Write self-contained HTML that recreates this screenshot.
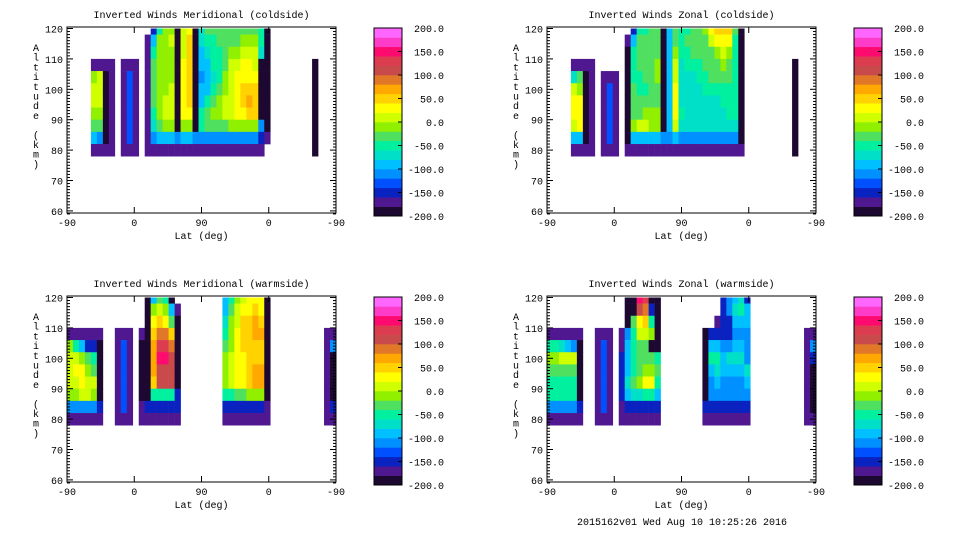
<!DOCTYPE html>
<html><head><meta charset="utf-8"><style>
html,body{margin:0;padding:0;background:#fff;}
svg{display:block;}
text{font-family:"Liberation Mono",monospace;font-size:10px;fill:#000;}
</style></head><body>
<svg id="chart" width="960" height="540" viewBox="0 0 960 540" xmlns="http://www.w3.org/2000/svg"></svg>
<script>
const N = null;
// altitude levels (km) for grid rows, orbit columns are 8-degree bins along orbit track
const altLevels = [120,116,112,108,104,100,96,92,88,84,80,76];
const xTickLabels = ["-90","0","90","0","-90"];
const yTickLabels = [120,110,100,90,80,70,60];
const cbarLabels = ["200.0","150.0","100.0","50.0","0.0","-50.0","-100.0","-150.0","-200.0"];
const bandColors = ["#1c0830","#501890","#0a22c0","#0050ff","#0090ff","#00c0ff","#00e0c8","#00f0a0","#50e060","#90f000","#d0ff00","#ffff00","#ffd200","#ffa800","#e07828","#c84a4a","#dc3c50","#ff0a6e","#ff3cc8","#ff66ff"];

// Top-left: Meridional coldside
const tlCols = [4,5,6,7,9,10,11,13,14,15,16,17,18,19,20,21,22,23,24,25,26,27,28,29,30,31,32,33,41];
const tlVals = [
[N,N,N,-180,-20,10,10,-20,-30,-100,-180,N],
[N,N,N,-180,0,10,0,-10,-40,-120,-170,N],
[N,N,N,-180,-200,-200,-200,-200,-200,-200,-180,N],
[N,N,N,-170,-170,-170,-170,-170,-170,-170,-170,N],
[N,N,N,-180,-180,-180,-180,-180,-180,-180,-180,N],
[N,N,N,-180,-140,-140,-140,-140,-140,-140,-180,N],
[N,N,N,-180,-180,-180,-180,-180,-180,-180,-180,N],
[N,-180,-180,-180,-180,-180,-180,-180,-180,-180,-180,N],
[-150,-100,-60,-40,-30,-30,-40,-60,-80,-120,-170,N],
[-60,-20,-10,-20,-20,-10,-10,-10,-40,-100,-170,N],
[-20,-10,-10,-10,-10,-10,0,0,-20,-100,-170,N],
[-20,0,-10,-10,-10,0,0,10,-20,-100,-170,N],
[-200,-200,-200,-200,-200,-200,-200,-200,-200,-120,-170,N],
[0,0,10,20,20,20,20,20,-10,-100,-170,N],
[30,40,40,40,50,50,40,30,-10,-100,-170,N],
[-200,-200,-200,-200,-200,-200,-200,-200,-200,-120,-170,N],
[-80,-80,-90,-100,-110,-100,-90,-60,-60,-120,-170,N],
[-40,-60,-80,-100,-100,-90,-60,-40,-40,-110,-170,N],
[-40,-50,-60,-60,-70,-60,-40,-20,-40,-110,-170,N],
[-40,-40,-50,-50,-50,-40,-20,-10,-30,-110,-170,N],
[-40,-40,-40,-30,-20,-10,0,0,-30,-110,-170,N],
[-40,-30,-20,0,10,10,10,10,-20,-110,-170,N],
[-40,-30,-10,10,20,30,30,20,-20,-110,-170,N],
[-40,-20,0,20,20,40,50,30,-10,-110,-170,N],
[-30,-20,0,20,20,40,60,40,-10,-110,-170,N],
[-30,-20,0,10,20,40,50,40,-20,-110,-170,N],
[-60,-60,-80,-200,-200,-200,-200,-200,-120,-150,-170,N],
[-200,-200,-200,-200,-200,-200,-200,-200,-200,-180,N,N],
[N,N,N,-200,-200,-200,-200,-200,-200,-200,-200,N]
];

// Top-right: Zonal coldside
const trCols = [4,5,6,7,9,10,11,13,14,15,16,17,18,19,20,21,22,23,24,25,26,27,28,29,30,31,32,41];
const trVals = [
[N,N,N,-180,-80,0,20,20,0,-100,-180,N],
[N,N,N,-180,-40,-20,20,30,20,-100,-170,N],
[N,N,N,-180,-200,-200,-200,-200,-200,-200,-180,N],
[N,N,N,-170,-170,-170,-170,-170,-170,-170,-170,N],
[N,N,N,N,-180,-180,-180,-180,-180,-180,-180,N],
[N,N,N,N,-180,-140,-140,-140,-140,-140,-180,N],
[N,N,N,N,-180,-180,-180,-180,-180,-180,-180,N],
[N,-180,-200,-200,-200,-200,-200,-200,-200,-200,-180,N],
[-150,-100,-60,-60,-60,-40,-40,-40,-20,-100,-180,N],
[-60,-40,-40,-40,-60,-60,-40,-40,0,-100,-180,N],
[-60,-40,-30,-40,-40,-60,-40,-20,0,-100,-180,N],
[-40,-40,-30,-30,-30,-40,-30,-20,-10,-100,-180,N],
[-40,-40,-40,-20,-20,-30,-30,-10,-10,-100,-180,N],
[-200,-200,-200,-200,-200,-200,-200,-200,-200,-120,-180,N],
[-100,-100,-100,-100,-100,-100,-100,-100,-100,-120,-180,N],
[-30,-30,-20,0,10,20,20,20,10,-100,-180,N],
[-60,-60,-60,-70,-70,-70,-70,-60,-80,-120,-180,N],
[-60,-40,-50,-60,-70,-70,-70,-70,-80,-120,-180,N],
[-40,-40,-40,-60,-70,-70,-70,-70,-80,-120,-180,N],
[-40,-40,-40,-60,-60,-70,-70,-70,-80,-120,-180,N],
[-20,-40,-40,-40,-50,-60,-70,-70,-80,-120,-180,N],
[20,0,-40,-40,-40,-60,-70,-70,-80,-120,-180,N],
[40,20,-20,-40,-40,-60,-70,-70,-80,-120,-180,N],
[50,30,0,-20,-40,-50,-60,-70,-80,-120,-180,N],
[40,20,-20,-40,-40,-50,-50,-60,-70,-120,-180,N],
[-40,-60,-60,-60,-60,-60,-60,-60,-70,-120,-180,N],
[-200,-200,-200,-200,-200,-200,-200,-200,-200,-200,-180,N],
[N,N,N,-200,-200,-200,-200,-200,-200,-200,-200,N]
];

// Bottom-left: Meridional warmside
const blCols = [0,1,2,3,4,5,8,9,10,12,13,14,15,16,17,18,26,27,28,29,30,31,32,33,43,44];
const blVals = [
[N,N,N,-180,-20,10,10,0,-20,-120,-180,N],
[N,N,N,-180,-60,10,20,10,-10,-120,-180,N],
[N,N,N,-180,-100,-20,20,20,0,-120,-180,N],
[N,N,N,-180,-150,-40,-20,10,0,-120,-180,N],
[N,N,N,-180,-150,-60,-40,10,-10,-120,-180,N],
[N,N,N,-180,-200,-200,-200,-200,-200,-150,-180,N],
[N,N,N,-180,-180,-180,-180,-180,-180,-180,-180,N],
[N,N,N,-180,-140,-140,-140,-140,-140,-140,-180,N],
[N,N,N,-180,-180,-180,-180,-180,-180,-180,-180,N],
[N,N,N,-180,-200,-200,-200,-200,-200,-180,-180,N],
[-200,-200,-200,-200,-200,-200,-200,-200,-200,-150,-180,N],
[-100,-20,20,40,60,70,60,50,-60,-150,-180,N],
[-40,0,40,80,120,140,110,100,-60,-150,-180,N],
[-60,-20,30,80,120,140,110,100,-60,-150,-180,N],
[-200,-100,-40,40,80,100,100,100,-60,-150,-180,N],
[N,-180,-200,-200,-200,-200,-200,-200,-150,-150,-180,N],
[-100,-100,-80,-60,-40,-20,-20,-20,-60,-150,-180,N],
[-60,-40,-20,-20,-20,0,0,0,-60,-150,-180,N],
[-20,0,10,20,20,20,20,20,-40,-150,-180,N],
[0,20,40,40,40,30,30,30,-40,-150,-180,N],
[20,30,50,50,40,40,50,50,-20,-150,-180,N],
[30,40,60,60,50,50,60,60,-20,-150,-180,N],
[20,30,50,60,50,50,60,60,-20,-150,-180,N],
[-200,-200,-200,-200,-200,-200,-200,-200,-200,-180,-180,N],
[N,N,N,-180,-180,-180,-180,-180,-180,-180,-180,N],
[N,N,N,-180,-120,-200,-200,-200,-200,-150,-180,N]
];

// Bottom-right: Zonal warmside
const brCols = [0,1,2,3,4,5,8,9,10,12,13,14,15,16,17,18,26,27,28,29,30,31,32,33,43,44];
const brVals = [
[N,N,N,-180,-60,-20,-40,-60,-60,-120,-180,N],
[N,N,N,-180,-60,-10,-40,-60,-60,-120,-180,N],
[N,N,N,-180,-80,0,-40,-60,-60,-120,-180,N],
[N,N,N,-180,-100,10,-30,-60,-50,-120,-180,N],
[N,N,N,-180,-120,10,-40,-60,-60,-120,-180,N],
[N,N,N,-180,-200,-200,-200,-200,-200,-150,-180,N],
[N,N,N,-180,-180,-180,-180,-180,-180,-180,-180,N],
[N,N,N,-180,-140,-140,-140,-140,-140,-140,-180,N],
[N,N,N,-180,-180,-180,-180,-180,-180,-180,-180,N],
[N,N,N,-180,-180,-150,-150,-150,-150,-180,-180,N],
[-200,-200,-200,-120,-100,-100,-100,-80,-100,-150,-180,N],
[-200,-200,-40,-60,-60,-60,-60,-40,-80,-150,-180,N],
[140,100,30,0,-40,-40,-40,-20,-80,-150,-180,N],
[120,80,40,10,-40,-40,-20,30,-60,-150,-180,N],
[-200,-150,-60,-20,-200,-40,-20,20,-60,-150,-180,N],
[-200,-200,-200,-200,-200,-60,-40,-60,-100,-150,-180,N],
[N,N,N,-200,-200,-200,-200,-200,-200,-150,-180,N],
[N,N,N,-150,-100,-60,-100,-120,-120,-150,-180,N],
[N,N,-180,-150,-100,-60,-80,-100,-120,-150,-180,N],
[-150,-150,-150,-150,-120,-100,-100,-120,-120,-150,-180,N],
[-120,-120,-150,-150,-120,-80,-100,-120,-120,-150,-180,N],
[-100,-80,-100,-120,-100,-80,-100,-120,-120,-150,-180,N],
[-80,-60,-100,-120,-100,-70,-100,-120,-120,-150,-180,N],
[-150,-100,-100,-120,-120,-120,-80,-100,-120,-150,-180,N],
[N,N,N,-180,-180,-180,-180,-180,-180,-180,-180,N],
[N,N,N,-180,-120,-150,-200,-200,-200,-200,-180,N]
];

const svg = document.getElementById('chart');
const NS = 'http://www.w3.org/2000/svg';
function mk(tag, attrs, parent){ const e=document.createElementNS(NS,tag); for(const k in attrs) e.setAttribute(k,attrs[k]); (parent||svg).appendChild(e); return e; }
function colorFor(v){ let b=Math.floor((v+200)/20); if(b<0)b=0; if(b>19)b=19; return bandColors[b]; }

const PW=269, PH=186, KM=3.04, BINW=8;
function panel(px, py, title, cols, vals, key){
  const g = mk('g',{});
  
  
  const xS = s => px + s*PW/360;
  const yS = a => py + 1.5 + (120-a)*KM;
  cols.forEach((c,ci)=>{
    vals[ci].forEach((v,ri)=>{
      if(v===null) return;
      const a = altLevels[ri];
      const top = Math.min(120, a+2), bot = a-2;
      const r = mk('rect',{x:xS(c*BINW).toFixed(2), y:yS(top).toFixed(2), width:(BINW*PW/360+0.3).toFixed(2), height:((top-bot)*KM+0.3).toFixed(2), fill:colorFor(v)}, g);
      
      
    });
  });
  const fr = mk('rect',{x:px,y:py,width:PW,height:PH,fill:'none',stroke:'#000','stroke-width':1},g);
  
  
  for(let a=59;a<=120;a++){
    const y=yS(a); const L = a%10===0?6:3;
    mk('line',{x1:px,x2:px+L,y1:y,y2:y,stroke:'#000','stroke-width':1},g);
    mk('line',{x1:px+PW-L,x2:px+PW,y1:y,y2:y,stroke:'#000','stroke-width':1},g);
  }
  yTickLabels.forEach(v=>{
    const t=mk('text',{x:px-4,y:yS(v)+4,'text-anchor':'end'},g); t.textContent=v;
    
    
  });
  xTickLabels.forEach((lab,i)=>{
    const x = xS(i*90);
    mk('line',{x1:x,x2:x,y1:py+PH,y2:py+PH-6,stroke:'#000'},g);
    mk('line',{x1:x,x2:x,y1:py,y2:py+6,stroke:'#000'},g);
    const t=mk('text',{x:x,y:py+PH+13,'text-anchor':'middle'},g); t.textContent=lab;
    
    
  });
  const xt=mk('text',{x:px+PW/2,y:py+PH+26,'text-anchor':'middle'},g); xt.textContent='Lat (deg)';
  
  
  const tt=mk('text',{x:px+PW/2,y:py-9,'text-anchor':'middle'},g); tt.textContent=title;
  
  
  const yl = 'Altitude (km)';
  for(let i=0;i<yl.length;i++){
    const t=mk('text',{x:px-31,y:py+24+i*9.7,'text-anchor':'middle'},g); t.textContent=yl[i];
    
    
  }
  const cx = px+307, cy=py+1, cw=28, ch=188;
  const cb = mk('g',{},g);
  
  
  bandColors.forEach((c,i)=>{
    mk('rect',{x:cx,y:cy+ch-(i+1)*ch/20,width:cw,height:ch/20+0.3,fill:c},cb);
  });
  mk('rect',{x:cx,y:cy,width:cw,height:ch,fill:'none',stroke:'#000'},cb);
  cbarLabels.forEach((lab,i)=>{
    const y = cy + i*ch/8;
    if(i>0&&i<8) mk('line',{x1:cx+cw-4,x2:cx+cw,y1:y,y2:y,stroke:'#000'},cb);
    const t=mk('text',{x:cx+70,y:y+4,'text-anchor':'end'},cb); t.textContent=lab;
    
    
  });
}
panel(67,27,'Inverted Winds Meridional (coldside)',tlCols,tlVals,'meridional-coldside');
panel(547,27,'Inverted Winds Zonal (coldside)',trCols,trVals,'zonal-coldside');
panel(67,296,'Inverted Winds Meridional (warmside)',blCols,blVals,'meridional-warmside');
panel(547,296,'Inverted Winds Zonal (warmside)',brCols,brVals,'zonal-warmside');
const ft = mk('text',{x:682,y:525,'text-anchor':'middle'}); ft.textContent='2015162v01 Wed Aug 10 10:25:26 2016';


</script>
</body></html>
